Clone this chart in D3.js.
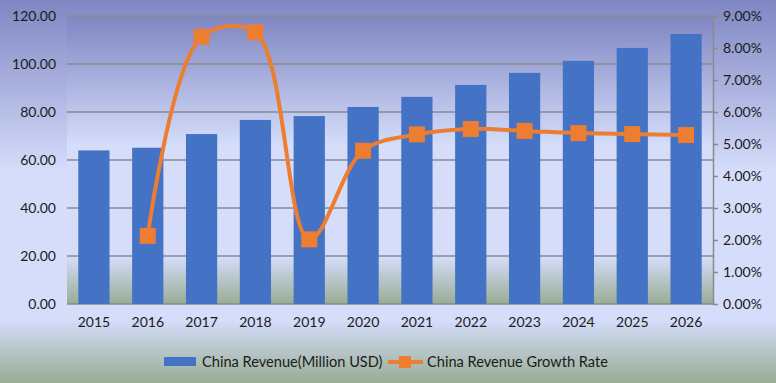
<!DOCTYPE html>
<html><head><meta charset="utf-8">
<script src="https://cdn.jsdelivr.net/npm/d3@7"></script>
<style>html,body{margin:0;padding:0;overflow:hidden;background:#fff}</style>
</head><body>
<svg id="chart" width="776" height="383"></svg>
<script>
const years = ["2015","2016","2017","2018","2019","2020","2021","2022","2023","2024","2025","2026"];
const revenue = [64.0, 65.1, 70.8, 76.7, 78.3, 82.1, 86.3, 91.3, 96.3, 101.3, 106.7, 112.5];
const growthYears = ["2016","2017","2018","2019","2020","2021","2022","2023","2024","2025","2026"];
const growth = [0.0213, 0.0835, 0.0849, 0.0202, 0.0479, 0.0530, 0.0547, 0.0541, 0.0534, 0.0531, 0.0528];
const leftTicks = [0, 20, 40, 60, 80, 100, 120];
const rightTicks = [0, 0.01, 0.02, 0.03, 0.04, 0.05, 0.06, 0.07, 0.08, 0.09];
const legendLabels = ["China Revenue(Million USD)", "China Revenue Growth Rate"];

const W = 776, H = 383;
const m = {left: 67, right: 713, top: 16, bottom: 304};
const font = "Lato, 'Open Sans', sans-serif";
const textColor = "#1b1b1b";
const svg = d3.select("#chart");

const defs = svg.append("defs");
function grad(id){
  const g = defs.append("linearGradient").attr("id", id).attr("x1",0).attr("y1",0).attr("x2",0).attr("y2",1);
  [[0,"#7f86c2"],[0.45,"#d5ddfb"],[0.835,"#d5ddfb"],[1,"#98ad94"]].forEach(([o,c]) =>
    g.append("stop").attr("offset", o).attr("stop-color", c));
}
grad("bg"); grad("pbg");

svg.append("rect").attr("width", W).attr("height", H).attr("fill", "url(#bg)");
svg.append("rect").attr("x", m.left).attr("y", m.top).attr("width", m.right - m.left).attr("height", m.bottom - m.top).attr("fill", "url(#pbg)");

const x = d3.scaleBand().domain(years).range([m.left, m.right]).paddingInner(0.42).paddingOuter(0.21);
const yL = d3.scaleLinear().domain([0, 120]).range([m.bottom, m.top]);
const yR = d3.scaleLinear().domain([0, 0.09]).range([m.bottom, m.top]);

// gridlines
svg.append("g").selectAll("line").data(leftTicks).join("line")
  .attr("x1", m.left).attr("x2", m.right)
  .attr("y1", d => yL(d)).attr("y2", d => yL(d))
  .attr("stroke", "#8a8a8a").attr("stroke-width", 1.5);

// bars
svg.append("g").selectAll("rect").data(revenue).join("rect")
  .attr("x", (d,i) => x(years[i])).attr("width", x.bandwidth())
  .attr("y", d => yL(d)).attr("height", d => yL(0) - yL(d))
  .attr("fill", "#4472c4");

// left axis
const axL = svg.append("g").attr("transform", `translate(${m.left},0)`)
  .call(d3.axisLeft(yL).tickValues(leftTicks).tickFormat(d3.format(".2f")).tickSize(0).tickPadding(11));
axL.select(".domain").remove();
axL.selectAll("text").attr("font-family", font).attr("font-size", 14).attr("fill", textColor);

// right axis
const axR = svg.append("g").attr("transform", `translate(${m.right},0)`)
  .call(d3.axisRight(yR).tickValues(rightTicks).tickFormat(d3.format(".2%")).tickSize(5).tickSizeOuter(0).tickPadding(5));
axR.select(".domain").attr("stroke", "#8a8a8a").attr("stroke-width", 1.5);
axR.selectAll(".tick line").attr("stroke", "#8a8a8a").attr("stroke-width", 1.5);
axR.selectAll("text").attr("font-family", font).attr("font-size", 14).attr("fill", textColor);

// bottom axis
const axB = svg.append("g").attr("transform", `translate(0,${m.bottom})`)
  .call(d3.axisBottom(x).tickSize(0).tickPadding(13));
axB.select(".domain").remove();
axB.selectAll("text").attr("font-family", font).attr("font-size", 14).attr("fill", textColor);

// growth line
const cx = d => x(d) + x.bandwidth()/2;
const line = d3.line().x((d,i) => cx(growthYears[i])).y(d => yR(d)).curve(d3.curveCatmullRom.alpha(0.5));
svg.append("path").datum(growth).attr("d", line)
  .attr("fill", "none").attr("stroke", "#ed7d31").attr("stroke-width", 4).attr("stroke-linejoin", "round");
svg.append("g").selectAll("rect").data(growth).join("rect")
  .attr("x", (d,i) => cx(growthYears[i]) - 8).attr("y", d => yR(d) - 8)
  .attr("width", 16).attr("height", 16).attr("fill", "#ed7d31");

// legend
const lg = svg.append("g");
lg.append("rect").attr("x", 164).attr("y", 357).attr("width", 32).attr("height", 9).attr("fill", "#4472c4");
lg.append("text").attr("x", 202).attr("y", 367).text(legendLabels[0])
  .attr("font-family", font).attr("font-size", 14.6).attr("fill", textColor);
lg.append("line").attr("x1", 388).attr("x2", 423).attr("y1", 362).attr("y2", 362)
  .attr("stroke", "#ed7d31").attr("stroke-width", 4);
lg.append("rect").attr("x", 399).attr("y", 356).attr("width", 12).attr("height", 12).attr("fill", "#ed7d31");
lg.append("text").attr("x", 427).attr("y", 367).text(legendLabels[1])
  .attr("font-family", font).attr("font-size", 14.6).attr("fill", textColor);
</script>
</body></html>
